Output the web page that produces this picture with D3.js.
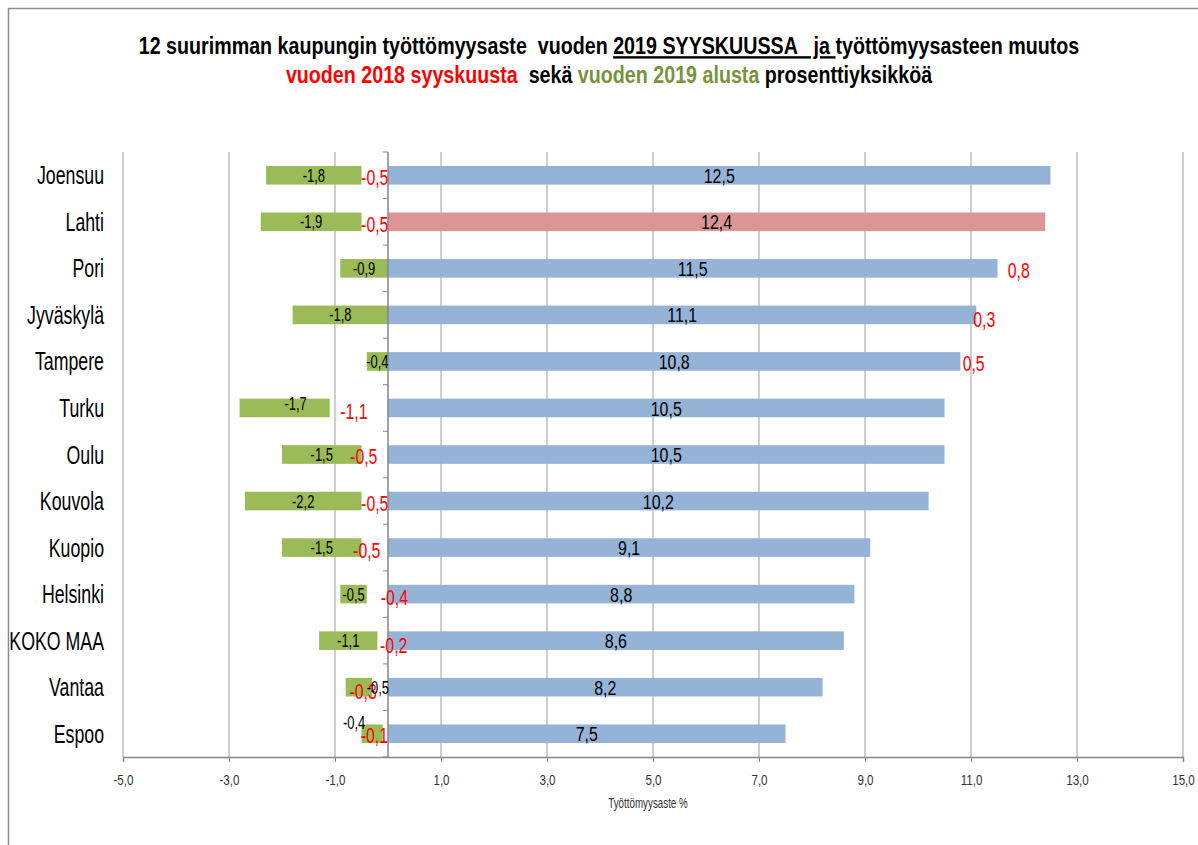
<!DOCTYPE html>
<html>
<head>
<meta charset="utf-8">
<script src="https://cdn.jsdelivr.net/npm/d3@7"></script>
<style>
  body { margin: 0; background: #fff; }
  svg { display: block; font-family: "Liberation Sans", Arial, sans-serif; }
  text { white-space: pre; }
</style>
</head>
<body>
<svg id="chart" width="1198" height="845"></svg>
<script>
const cities = ["Joensuu", "Lahti", "Pori", "Jyväskylä", "Tampere", "Turku", "Oulu",
  "Kouvola", "Kuopio", "Helsinki", "KOKO MAA", "Vantaa", "Espoo"];
// työttömyysaste 2019 syyskuu
const rate = [12.5, 12.4, 11.5, 11.1, 10.8, 10.5, 10.5, 10.2, 9.1, 8.8, 8.6, 8.2, 7.5];
// muutos vuoden 2018 syyskuusta
const change2018 = [-0.5, -0.5, 0.8, 0.3, 0.5, -1.1, -0.5, -0.5, -0.5, -0.4, -0.2, -0.3, -0.1];
// muutos vuoden 2019 alusta
const change2019 = [-1.8, -1.9, -0.9, -1.8, -0.4, -1.7, -1.5, -2.2, -1.5, -0.5, -1.1, -0.5, -0.4];
const xTicks = [-5, -3, -1, 1, 3, 5, 7, 9, 11, 13, 15];
const highlight = "Lahti";

// hand moved labels, like in the original sheet
const redNudge = {"Jyväskylä": [0, 2], Turku: [-5, 1], Oulu: [-11, 0], Kuopio: [-8, 0],
  Helsinki: [17, 1], "KOKO MAA": [11, 2], Vantaa: [-17, 2], Espoo: [-11, -1]};
const greenNudge = {Turku: [11, -4], Vantaa: [19, 0], Espoo: [-18, -11]};

const fi = d3.formatLocale({decimal: ",", thousands: " ", grouping: [3], currency: ["", "€"], minus: "-"});
const fmt = fi.format(".1f");

const rows = cities.map((c, i) => ({city: c, rate: rate[i], change2018: change2018[i], change2019: change2019[i]}));
const series = d3.stack()
  .keys(["rate", "change2018", "change2019"])
  .offset(d3.stackOffsetDiverging)(rows);
series.forEach(s => s.forEach(d => d.key = s.key));

// the sheet used a narrow font, so squeeze the text sideways
const squeeze = (sel, sx) => sel.each(function() {
  const t = d3.select(this);
  const x0 = +t.attr("x") || 0, y0 = +t.attr("y") || 0;
  t.attr("x", null).attr("y", null)
    .attr("transform", `translate(${x0},${y0}) scale(${sx},1)`);
});

const svg = d3.select("#chart");

const x = d3.scaleLinear().domain([-5, 15]).range([123, 1183]);
const y = d3.scaleBand().domain(cities).range([152, 757]).paddingInner(0.6).paddingOuter(0.3);

// frame
svg.append("path")
  .attr("d", "M8.5,845 V8.5 H1198")
  .attr("fill", "none")
  .attr("stroke", "#8c8c8c")
  .attr("stroke-width", 1.5);

// title
const t1 = svg.append("text")
  .attr("x", 609)
  .attr("y", 54)
  .attr("text-anchor", "middle")
  .attr("font-weight", "bold")
  .attr("font-size", 24)
  .attr("fill", "#000");
t1.append("tspan").text("12 suurimman kaupungin työttömyysaste  vuoden ");
t1.append("tspan").attr("text-decoration", "underline").text("2019 SYYSKUUSSA   ja ");
t1.append("tspan").text("työttömyysasteen muutos");

const t2 = svg.append("text")
  .attr("x", 609)
  .attr("y", 83)
  .attr("text-anchor", "middle")
  .attr("font-weight", "bold")
  .attr("font-size", 24)
  .attr("fill", "#000");
t2.append("tspan").attr("fill", "#ff0000").text("vuoden 2018 syyskuusta");
t2.append("tspan").text("  sekä ");
t2.append("tspan").attr("fill", "#77933c").text("vuoden 2019 alusta");
t2.append("tspan").text(" prosenttiyksikköä");
squeeze(svg.selectAll("text"), 0.82);

// gridlines
svg.append("g")
  .selectAll("line")
  .data(xTicks)
  .join("line")
    .attr("x1", d => x(d))
    .attr("x2", d => x(d))
    .attr("y1", 152)
    .attr("y2", 757)
    .attr("stroke", "#bfbfbf")
    .attr("stroke-width", 1.5);

// x axis
const xAxis = svg.append("g")
  .attr("transform", "translate(0,757)")
  .call(d3.axisBottom(x).tickValues(xTicks).tickFormat(fmt).tickSize(5).tickPadding(13));
xAxis.select(".domain").attr("stroke", "#868686").attr("stroke-width", 1.5);
xAxis.selectAll(".tick line").attr("stroke", "#868686");
xAxis.selectAll(".tick text")
  .attr("font-family", "'Liberation Sans', Arial, sans-serif")
  .attr("font-size", 14)
  .attr("fill", "#333")
  .call(squeeze, 0.83);

svg.append("text")
  .attr("x", 648)
  .attr("y", 808)
  .attr("text-anchor", "middle")
  .attr("font-size", 14)
  .attr("fill", "#333")
  .text("Työttömyysaste %")
  .call(squeeze, 0.7);

// bars
const fills = {rate: "#95b3d7", change2018: "none", change2019: "#9bbb59"};
svg.append("g")
  .selectAll("g")
  .data(series)
  .join("g")
  .selectAll("rect")
  .data(s => s)
  .join("rect")
    .attr("x", d => x(Math.min(d[0], d[1])))
    .attr("y", d => y(d.data.city))
    .attr("width", d => Math.abs(x(d[1]) - x(d[0])))
    .attr("height", y.bandwidth())
    .attr("fill", d => d.key === "rate" && d.data.city === highlight ? "#d99694" : fills[d.key]);

// y axis with category ticks
const yAxis = svg.append("g")
  .attr("transform", `translate(${x(0)},0)`);
yAxis.append("line")
  .attr("y1", 152)
  .attr("y2", 757)
  .attr("stroke", "#868686")
  .attr("stroke-width", 1.5);
yAxis.selectAll(".cat-tick")
  .data(d3.range(cities.length + 1))
  .join("line")
    .attr("class", "cat-tick")
    .attr("x1", -5)
    .attr("x2", 0)
    .attr("y1", i => 152 + i * y.step())
    .attr("y2", i => 152 + i * y.step())
    .attr("stroke", "#868686");

svg.append("g")
  .selectAll("text")
  .data(cities)
  .join("text")
    .attr("x", 104)
    .attr("y", d => y(d) + y.bandwidth() / 2)
    .attr("dy", "0.36em")
    .attr("text-anchor", "end")
    .attr("font-size", 25)
    .attr("fill", "#000")
    .text(d => d)
    .call(squeeze, 0.71);

// value labels, on top of all bars
const labelStyle = {
  rate: {size: 21, sx: 0.76, color: "#000", nudge: {}, dy: 0},
  change2018: {size: 22, sx: 0.72, color: "#ff0000", nudge: redNudge, dy: 2},
  change2019: {size: 18, sx: 0.72, color: "#000", nudge: greenNudge, dy: 0}
};

svg.append("g")
  .selectAll("text")
  .data(series.flat())
  .join("text")
    .each(function(d) {
      const st = labelStyle[d.key];
      const n = st.nudge[d.data.city] || [0, 0];
      d3.select(this)
        .attr("dy", "0.36em")
        .attr("text-anchor", "middle")
        .attr("font-size", st.size)
        .attr("fill", st.color)
        .attr("transform", `translate(${x((d[0] + d[1]) / 2) + n[0]},${y(d.data.city) + y.bandwidth() / 2 + st.dy + n[1]}) scale(${st.sx},1)`)
        .text(fmt(d.data[d.key]));
    });
</script>
</body>
</html>
